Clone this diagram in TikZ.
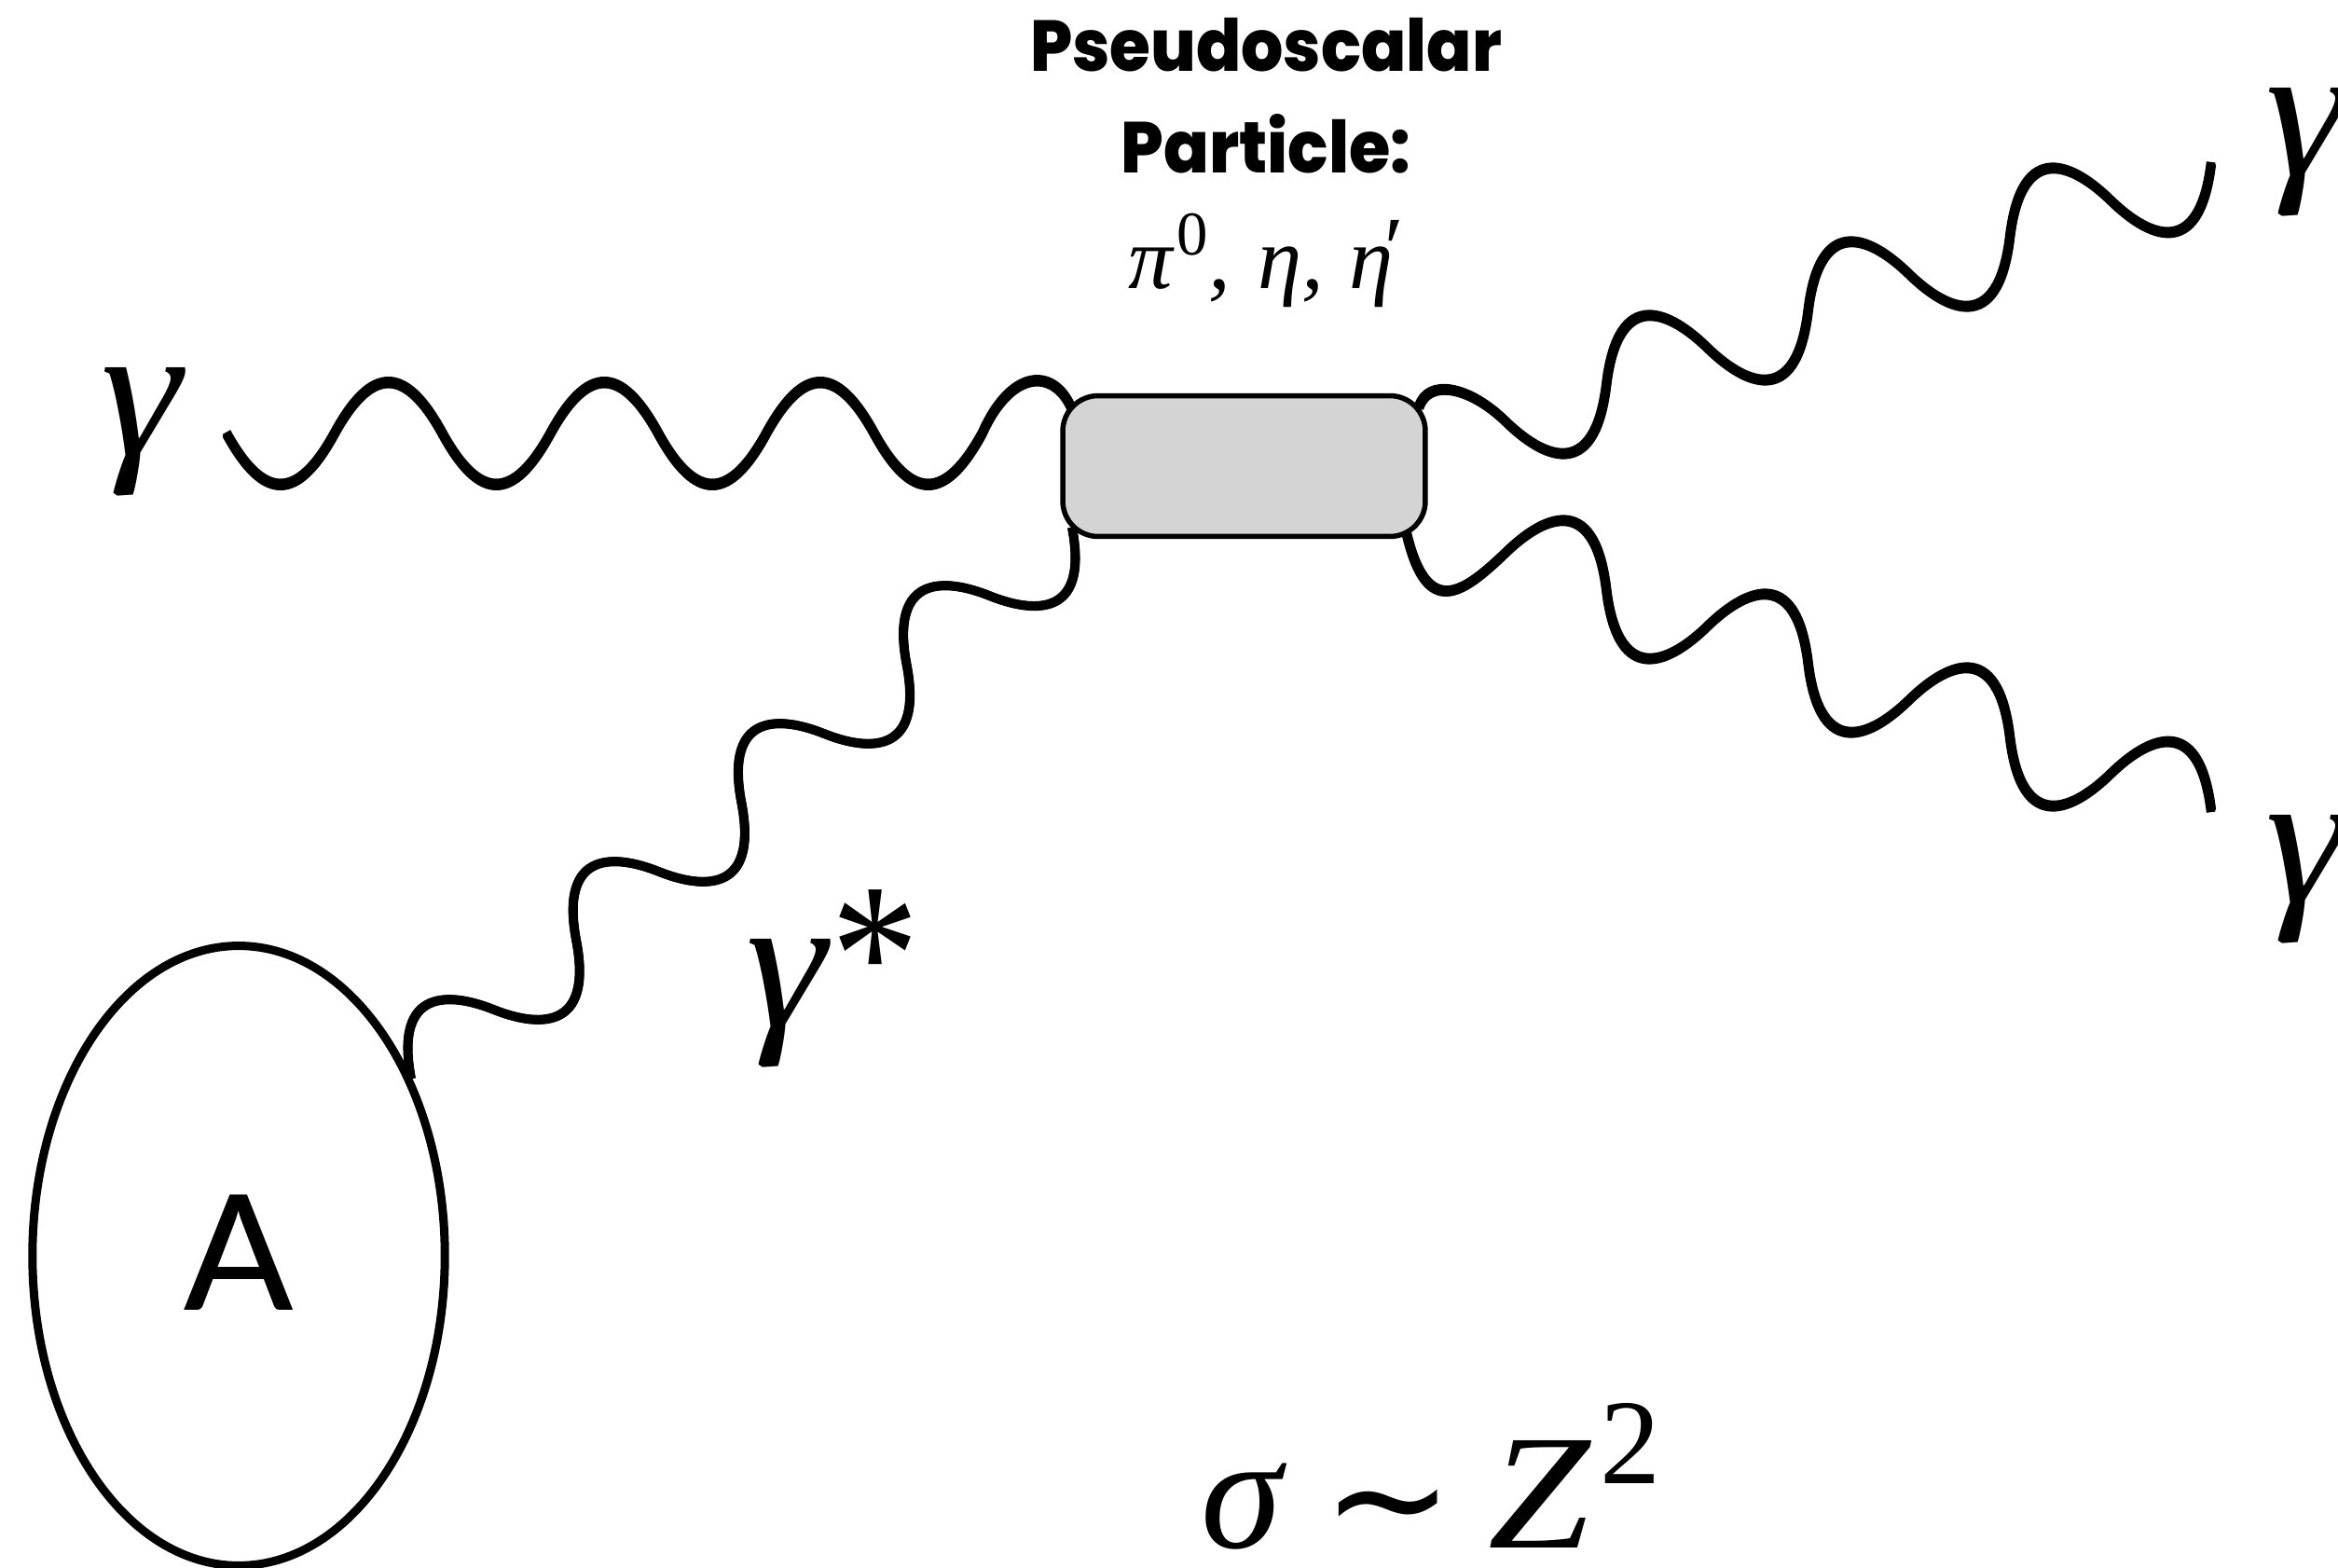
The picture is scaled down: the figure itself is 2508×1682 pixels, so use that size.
\documentclass[tikz,border=0pt]{standalone}
\usepackage{fontspec}
\setmainfont{Liberation Serif}
\newfontfamily\headfont{Poppins ExtraBold}
\newfontfamily\letterfont{Lato Medium}
\newfontfamily\symfont{DejaVu Sans}
\usetikzlibrary{calc,shapes.geometric}
\newcommand{\gam}{\scalebox{1.15}[1.08]{γ}}
\tikzset{
  x=0.02cm,y=-0.02cm,
  wavebase/.style={draw=black,line width=0.19cm,line cap=butt,line join=round},
  wave/.style={wavebase,
    preaction={draw=black,line width=0.19cm,transform canvas={shift={(#1)}}},
    postaction={draw=black,line width=0.19cm,transform canvas={shift={($(0,0)-(#1)$)}}}},
  txt/.style={inner sep=0pt,outer sep=0pt,anchor=base west,text=black},
  greek/.style={txt,font=\fontsize{108}{108}\selectfont\itshape},
  head/.style={inner sep=0pt,outer sep=0pt,anchor=base,text=black,font=\fontsize{44}{44}\selectfont\headfont},
}
\begin{document}
\begin{tikzpicture}
\useasboundingbox (0,0) rectangle (2508,1682);
% nucleus
\node[draw=black,line width=0.18cm,ellipse,inner sep=0pt,minimum width=8.85cm,minimum height=13.3cm] (nucleus) at (256,1347) {};
\node[inner sep=0pt,font=\fontsize{98}{98}\selectfont\letterfont] (nucleusA) at (256,1344) {A};
% connector ends
\coordinate (hStart) at (243,465);
\coordinate (hEnd) at (1149,437);
\coordinate (uStart) at (1522,437);
\coordinate (uEnd) at (2372,175);
\coordinate (dStart) at (1509,573);
\coordinate (dEnd) at (2372,870);
\coordinate (vStart) at (441,1157);
\coordinate (vEnd) at (1150,566);
% incoming photon
\path[wave={0,1.5}] (hStart)
  .. controls +(40,73) and +(-40,73) .. ++(115.8,0)
  .. controls +(40,-73) and +(-40,-73) .. ++(115.8,0)
  .. controls +(40,73) and +(-40,73) .. ++(115.8,0)
  .. controls +(40,-73) and +(-40,-73) .. ++(115.8,0)
  .. controls +(40,73) and +(-40,73) .. ++(115.8,0)
  .. controls +(40,-73) and +(-40,-73) .. ++(115.8,0)
  .. controls +(40,73) and +(-40,73) .. ++(115.8,0)
  .. controls (1085,395) and (1130,395) .. (hEnd);
% upper outgoing photon
\path[wave={0.4,1.2}] (uStart)
  .. controls (1532,405) and (1577,415) .. (1615,452)
  .. controls +(38,37) and +(-13,108) .. ++(108.2,-39.5)
  .. controls +(13,-108) and +(-38,-37) .. ++(108.2,-39.5)
  .. controls +(38,37) and +(-13,108) .. ++(108.2,-39.5)
  .. controls +(13,-108) and +(-38,-37) .. ++(108.2,-39.5)
  .. controls +(38,37) and +(-13,108) .. ++(108.2,-39.5)
  .. controls +(13,-108) and +(-38,-37) .. ++(108.2,-39.5)
  .. controls +(38,37) and +(-13,108) .. (uEnd);
% lower outgoing photon
\path[wave={0.4,-1.2}] (dStart)
  .. controls (1531,665) and (1569,637) .. (1615,593)
  .. controls +(38,-37) and +(-13,-108) .. ++(108.2,39.5)
  .. controls +(13,108) and +(-38,37) .. ++(108.2,39.5)
  .. controls +(38,-37) and +(-13,-108) .. ++(108.2,39.5)
  .. controls +(13,108) and +(-38,37) .. ++(108.2,39.5)
  .. controls +(38,-37) and +(-13,-108) .. ++(108.2,39.5)
  .. controls +(13,108) and +(-38,37) .. ++(108.2,39.5)
  .. controls +(38,-37) and +(-13,-108) .. (dEnd);
% meson blob
\node[draw=black,fill=black!17,line width=0.11cm,rounded corners=0.76cm,inner sep=0pt,minimum width=7.78cm,minimum height=3.02cm] (blob) at (1334.5,500) {};
% virtual photon
\path[wave={0.3,0.3}] (vStart)
  .. controls +(-19,-99) and +(-45,-18) .. ++(88.6,-74)
  .. controls +(45,18) and +(19,99) .. ++(88.6,-74)
  .. controls +(-19,-99) and +(-45,-18) .. ++(88.6,-74)
  .. controls +(45,18) and +(19,99) .. ++(88.6,-74)
  .. controls +(-19,-99) and +(-45,-18) .. ++(88.6,-74)
  .. controls +(45,18) and +(19,99) .. ++(88.6,-74)
  .. controls +(-19,-99) and +(-45,-18) .. ++(88.6,-74)
  .. controls +(45,18) and +(19,99) .. (vEnd);
% labels
\node[greek] (gIn) at (108,489) {\gam};
\node[greek] (gUp) at (2430,189) {\gam};
\node[greek] (gDown) at (2430,968) {\gam};
\node[greek] (gStar) at (800,1101) {\gam\kern-2pt\raisebox{2pt}{\scalebox{1}[1.15]{*}}};
\node[head] (title1) at (1358,77) {\scalebox{0.92}[1]{Pseudoscalar}};
\node[head] (title2) at (1358,186) {\scalebox{0.93}[1]{Particle:}};
\node[txt,font=\fontsize{54}{54}\selectfont] (mesons) at (1210,310)
  {\itshape π\kern3pt\raisebox{0.38em}{\upshape\fontsize{38}{38}\selectfont 0},\kern3.6pt{} η, \kern2pt η\kern-9pt\raisebox{6.5pt}{′}};
\node[txt,font=\fontsize{100}{100}\selectfont] (law) at (1288,1660)
  {\itshape σ\kern25pt\raisebox{-3.4pt}{\upshape\symfont\fontsize{96}{96}\selectfont ∼}\kern21pt \scalebox{1.12}[1]{Z}\kern5.7pt\raisebox{39pt}{\upshape\fontsize{74}{74}\selectfont 2}};
\end{tikzpicture}
\end{document}
